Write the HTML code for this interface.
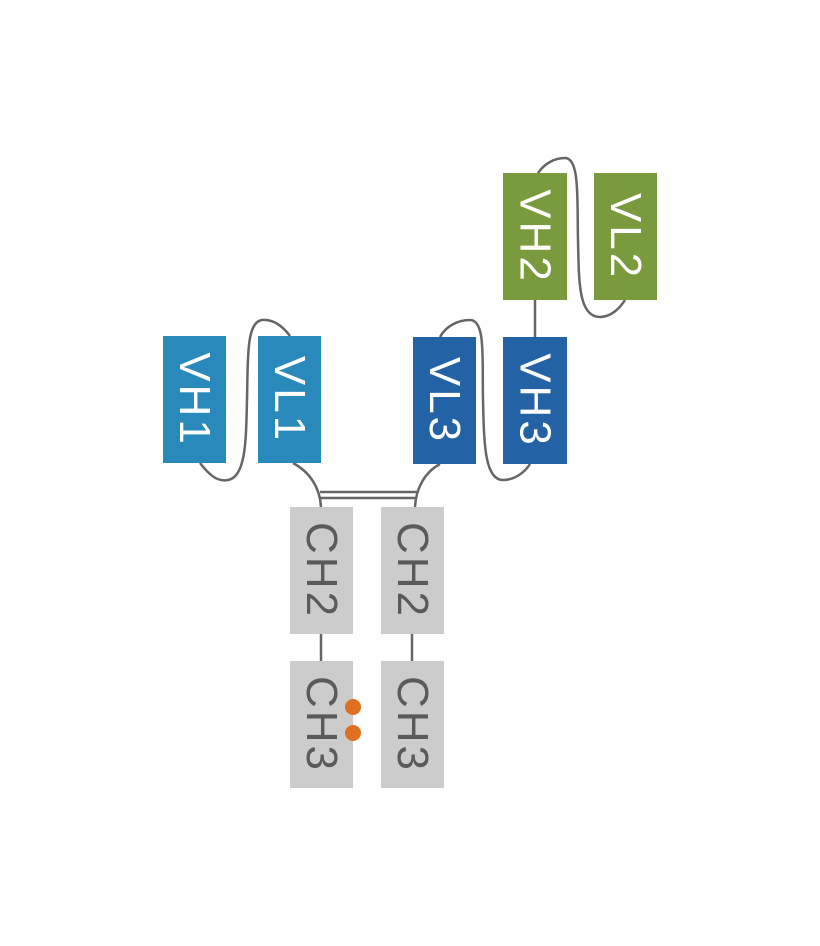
<!DOCTYPE html>
<html><head><meta charset="utf-8"><style>html,body{margin:0;padding:0;background:#fff}svg{display:block}</style></head>
<body>
<svg width="820" height="946" viewBox="0 0 820 946" xmlns="http://www.w3.org/2000/svg">
<g fill="none" stroke="#666" stroke-width="2.5">
<path d="M200,463 C210,476 218,482 228,480 C246,477 246,440 247,400 C248,360 246,322 262,320 C275,319 284,328 290,336"/>
<path d="M440,337 C446,326 458,320 470,320 C486,320 482,360 483,400 C484,440 484,480 503,480 C515,480 525,472 530,464"/>
<path d="M538,173 C545,163 555,158 565,158 C580,158 577,200 578,240 C579,280 578,317 600,317 C611,317 620,308 625,300"/>
<path d="M293,463 C310,472 320,488 321,507"/>
<path d="M440,464 C425,472 416,488 415,507"/>
<line x1="320" y1="492" x2="417" y2="492"/>
<line x1="320" y1="498" x2="417" y2="498"/>
<line x1="535" y1="300" x2="535" y2="337"/>
<line x1="321" y1="634" x2="321" y2="661"/>
<line x1="412" y1="634" x2="412" y2="661"/>
</g>
<g>
<rect x="163" y="336" width="63" height="127" fill="#2a89bb"/>
<rect x="258" y="336" width="63" height="127" fill="#2a89bb"/>
<rect x="413" y="337" width="63" height="127" fill="#2262a5"/>
<rect x="503" y="337" width="64" height="127" fill="#2262a5"/>
<rect x="503" y="173" width="64" height="127" fill="#7a9a3e"/>
<rect x="594" y="173" width="63" height="127" fill="#7a9a3e"/>
<rect x="290" y="507" width="63" height="127" fill="#cccccc"/>
<rect x="381" y="507" width="63" height="127" fill="#cccccc"/>
<rect x="290" y="661" width="63" height="127" fill="#cccccc"/>
<rect x="381" y="661" width="63" height="127" fill="#cccccc"/>
</g>
<g font-family="Liberation Sans, sans-serif" font-size="44" text-anchor="middle" dominant-baseline="central" letter-spacing="3">
<text transform="translate(194.5,399.5) rotate(90)" fill="#fff">VH1</text>
<text transform="translate(289.5,399.5) rotate(90)" fill="#fff">VL1</text>
<text transform="translate(444.5,400.5) rotate(90)" fill="#fff">VL3</text>
<text transform="translate(535,400.5) rotate(90)" fill="#fff">VH3</text>
<text transform="translate(535,236.5) rotate(90)" fill="#fff">VH2</text>
<text transform="translate(625.5,236.5) rotate(90)" fill="#fff">VL2</text>
<text transform="translate(321.5,570.5) rotate(90)" fill="#5a5a5a">CH2</text>
<text transform="translate(412.5,570.5) rotate(90)" fill="#5a5a5a">CH2</text>
<text transform="translate(321.5,724.5) rotate(90)" fill="#5a5a5a">CH3</text>
<text transform="translate(412.5,724.5) rotate(90)" fill="#5a5a5a">CH3</text>
</g>
<circle cx="353" cy="707" r="8" fill="#e07020"/>
<circle cx="353" cy="733" r="8" fill="#e07020"/>
</svg>
</body></html>
